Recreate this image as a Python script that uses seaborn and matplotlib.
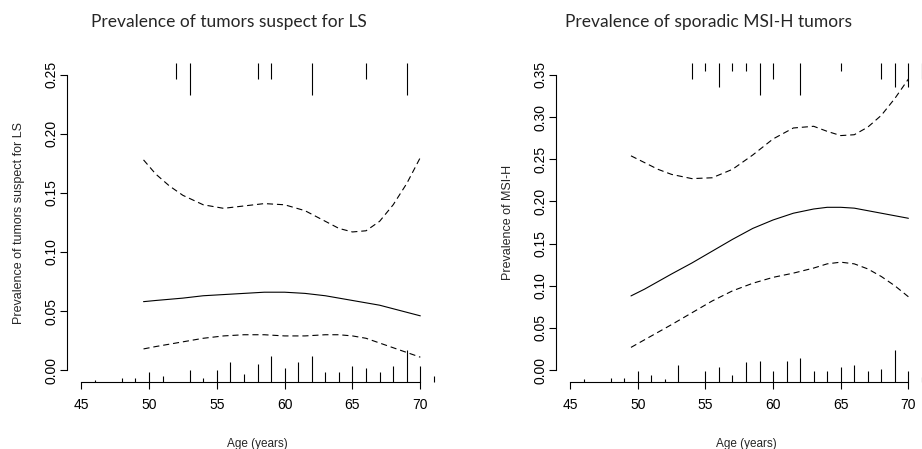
import matplotlib
matplotlib.use("Agg")
import matplotlib.pyplot as plt
import numpy as np
import pandas as pd
import seaborn as sns

# Smoothed prevalence curves (estimate + 95% band), left panel: tumors suspect for LS
age_ls = [49.6, 50.5, 51.5, 52.5, 54, 55.5, 57, 58.5, 60, 61.5, 63, 64, 65, 66, 67, 68, 69, 70]
est_ls = [0.058, 0.059, 0.060, 0.061, 0.063, 0.064, 0.065, 0.066, 0.066, 0.065,
          0.063, 0.061, 0.059, 0.057, 0.055, 0.052, 0.049, 0.046]
lo_ls = [0.018, 0.020, 0.022, 0.024, 0.027, 0.029, 0.030, 0.030, 0.029, 0.029,
         0.030, 0.030, 0.029, 0.027, 0.023, 0.019, 0.015, 0.011]
hi_ls = [0.178, 0.166, 0.156, 0.148, 0.140, 0.137, 0.139, 0.141, 0.140, 0.135,
         0.126, 0.120, 0.117, 0.118, 0.126, 0.140, 0.158, 0.180]

# right panel: sporadic MSI-H tumors
age_msi = [49.5, 50.5, 51.5, 52.5, 54, 55.5, 57, 58.5, 60, 61.5, 63, 64, 65, 66, 67, 68, 69, 70]
est_msi = [0.088, 0.096, 0.105, 0.114, 0.127, 0.141, 0.155, 0.168, 0.178, 0.186,
           0.191, 0.193, 0.193, 0.192, 0.189, 0.186, 0.183, 0.180]
lo_msi = [0.027, 0.036, 0.045, 0.054, 0.068, 0.082, 0.094, 0.103, 0.110, 0.115,
          0.121, 0.126, 0.128, 0.126, 0.120, 0.111, 0.100, 0.087]
hi_msi = [0.254, 0.246, 0.238, 0.232, 0.227, 0.228, 0.238, 0.255, 0.274, 0.287,
          0.289, 0.283, 0.278, 0.279, 0.288, 0.302, 0.322, 0.345]

# spike histograms: ages of patients without the outcome (bottom) and with it (top)
bot_age_ls = [46, 48, 49, 50, 51, 53, 54, 55, 56, 57, 58, 59, 60, 61, 62, 63, 64, 65, 66, 67, 68, 69, 70, 71]
bot_n_ls = [1, 2, 2, 5, 3, 6, 2, 6, 10, 4, 9, 13, 7, 10, 13, 5, 5, 8, 7, 5, 8, 16, 8, 3]
top_age_ls = [52, 53, 58, 59, 62, 66, 69]
top_n_ls = [1, 2, 1, 1, 2, 1, 2]

bot_age_msi = [46, 48, 49, 50, 51, 52, 53, 55, 56, 57, 58, 59, 60, 61, 62, 63, 64, 65, 66, 67, 68, 69, 70, 71]
bot_n_msi = [1, 1.6, 1.6, 4.1, 2.6, 1, 6.5, 4.1, 5.7, 2.6, 7.4, 8, 4.1, 8, 9, 4.1, 4.1, 5.7, 6.5, 4.1, 4.9, 12, 4.1, 2]
top_age_msi = [54, 55, 56, 57, 58, 59, 60, 62, 65, 68, 69, 70, 71]
top_n_msi = [2, 1, 3, 1, 1, 4, 2, 4, 1, 2, 3, 3, 2]

titles = ["Prevalence of tumors suspect for LS", "Prevalence of sporadic MSI-H tumors"]
ylabels = ["Prevalence of tumors suspect for LS", "Prevalence of MSI-H"]
xticks = [45, 50, 55, 60, 65, 70]

sns.set_theme(style="ticks")
plt.rcParams["font.family"] = ["Liberation Sans", "DejaVu Sans"]

fig = plt.figure(figsize=(9.22, 4.49), dpi=100)
ax1 = fig.add_axes([67 / 922, 67 / 449, 381 / 922, 319 / 449])
ax2 = fig.add_axes([556 / 922, 67 / 449, 380 / 922, 319 / 449])

panels = [
    (ax1, age_ls, est_ls, lo_ls, hi_ls, bot_age_ls, bot_n_ls, top_age_ls, top_n_ls, 0.25),
    (ax2, age_msi, est_msi, lo_msi, hi_msi, bot_age_msi, bot_n_msi, top_age_msi, top_n_msi, 0.35),
]

dash = (0, (5.5, 3.5))
for i, (ax, age, est, lo, hi, b_age, b_n, t_age, t_n, ymax) in enumerate(panels):
    df = pd.DataFrame({"age": age, "est": est, "lo": lo, "hi": hi})
    sns.lineplot(data=df, x="age", y="est", ax=ax, color="black", lw=0.8)
    sns.lineplot(data=df, x="age", y="lo", ax=ax, color="black", lw=0.8, linestyle=dash)
    sns.lineplot(data=df, x="age", y="hi", ax=ax, color="black", lw=0.8, linestyle=dash)

    # R-like limits: 4% padding around data range
    x0, x1 = 45, 71
    ax.set_xlim(x0 - 0.04 * (x1 - x0), x1 + 0.04 * (x1 - x0))
    ylo, yhi = -0.04 * ymax, ymax * 1.04
    ax.set_ylim(ylo, yhi)

    # spikes, longest one = 10% of the y range
    spike = 0.1 * (yhi - ylo)
    blen = np.array(b_n) / max(b_n) * spike
    ax.vlines(b_age, ylo, ylo + blen, color="black", lw=0.8, clip_on=False)
    unit = spike / max(t_n) if i == 0 else spike / 4
    tlen = np.array(t_n) * unit
    ax.vlines(t_age, yhi - tlen, yhi, color="black", lw=0.8, clip_on=False)

    sns.despine(ax=ax)
    ax.spines["bottom"].set_bounds(45, 70)
    ax.spines["left"].set_bounds(0, ymax)
    for s in ["bottom", "left"]:
        ax.spines[s].set_linewidth(0.8)
        ax.spines[s].set_color("black")

    ax.set_xticks(xticks)
    yt = np.arange(0, ymax + 0.001, 0.05)
    ax.set_yticks(yt)
    ax.set_yticklabels([f"{v:.2f}" for v in yt], rotation=90, va="center")
    ax.tick_params(axis="x", length=5, width=0.8, pad=6.5, labelsize=10, colors="black")
    ax.tick_params(axis="y", length=5, width=0.8, pad=1, labelsize=10, colors="black")
    ax.set_xlabel("Age (years)", fontsize=8.5, labelpad=19)
    ax.set_ylabel(ylabels[i], fontsize=9, labelpad=14)
    ax.set_facecolor("white")

fig.text(229 / 922, 1 - 22 / 449, titles[0], ha="center", va="center", fontsize=12.5, family=["Lato", "DejaVu Sans"])
fig.text(708 / 922, 1 - 22 / 449, titles[1], ha="center", va="center", fontsize=12.5, family=["Lato", "DejaVu Sans"])

fig.savefig("out.png", dpi=100, facecolor="white")
